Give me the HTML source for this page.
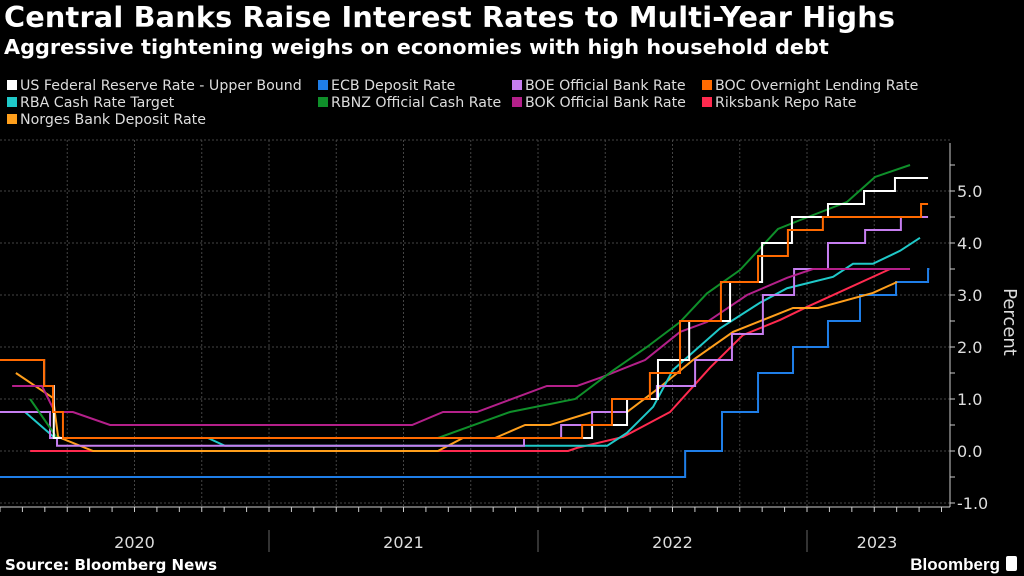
<!DOCTYPE html>
<html><head><meta charset="utf-8">
<style>
body{margin:0;background:#000;width:1024px;height:576px;overflow:hidden;font-family:"Liberation Sans","DejaVu Sans",sans-serif;color:#fff}
.t{position:absolute;left:4px;top:0px;font-size:28.7px;font-weight:bold;font-family:"DejaVu Sans","Liberation Sans",sans-serif;letter-spacing:0.2px}
.s{position:absolute;left:4px;top:35px;font-size:20.8px;font-weight:bold;font-family:"DejaVu Sans","Liberation Sans",sans-serif}
.lg{position:absolute;font-size:14.2px;color:#ddd;font-family:"DejaVu Sans","Liberation Sans",sans-serif;white-space:nowrap}
.lg i{display:inline-block;width:10px;height:10px;margin-right:3px;vertical-align:0px}
</style></head><body>
<div class="t">Central Banks Raise Interest Rates to Multi-Year Highs</div>
<div class="s">Aggressive tightening weighs on economies with high household debt</div>
<div>
<div class="lg" style="left:7px;top:78px"><i style="background:#fff"></i>US Federal Reserve Rate - Upper Bound</div>
<div class="lg" style="left:318px;top:78px"><i style="background:#1f7ee8"></i>ECB Deposit Rate</div>
<div class="lg" style="left:512px;top:78px"><i style="background:#c67ef0"></i>BOE Official Bank Rate</div>
<div class="lg" style="left:702px;top:78px"><i style="background:#ff6a00"></i>BOC Overnight Lending Rate</div>
<div class="lg" style="left:7px;top:95px"><i style="background:#1fc9c9"></i>RBA Cash Rate Target</div>
<div class="lg" style="left:318px;top:95px"><i style="background:#0f8f2a"></i>RBNZ Official Cash Rate</div>
<div class="lg" style="left:512px;top:95px"><i style="background:#b4208a"></i>BOK Official Bank Rate</div>
<div class="lg" style="left:702px;top:95px"><i style="background:#ff2a4f"></i>Riksbank Repo Rate</div>
<div class="lg" style="left:7px;top:112px"><i style="background:#ff9f1c"></i>Norges Bank Deposit Rate</div>
</div>
<svg id="c" width="1024" height="576" style="position:absolute;left:0;top:0"></svg>
<script>
const yTicks=[-1,0,1,2,3,4,5];
const yearLabels=["2020","2021","2022","2023"];
// step series: change dates (decimal years) and values
const fedDates=[2020,2020.164,2020.2,2022.201,2022.331,2022.446,2022.562,2022.714,2022.833,2022.944,2023.078,2023.212,2023.327];
const fedVals=[1.75,1.25,0.25,0.5,1.0,1.75,2.5,3.25,4.0,4.5,4.75,5.0,5.25];
const fedEnd=2023.45;
const ecbDates=[2020,2022.547,2022.684,2022.818,2022.948,2023.078,2023.197,2023.331,2023.45];
const ecbVals=[-0.5,0,0.75,1.5,2.0,2.5,3.0,3.25,3.5];
const ecbEnd=2023.455;
const boeDates=[2020,2020.186,2020.212,2021.948,2022.086,2022.201,2022.331,2022.442,2022.584,2022.721,2022.836,2022.952,2023.078,2023.216,2023.349];
const boeVals=[0.75,0.25,0.1,0.25,0.5,0.75,1.0,1.25,1.75,2.25,3.0,3.5,4.0,4.25,4.5];
const boeEnd=2023.45;
const bocDates=[2020,2020.164,2020.197,2020.234,2022.164,2022.275,2022.416,2022.528,2022.68,2022.818,2022.929,2023.059,2023.424];
const bocVals=[1.75,1.25,0.75,0.25,0.5,1.0,1.5,2.5,3.25,3.75,4.25,4.5,4.75];
const bocEnd=2023.45;
// line series
const rbaDates=[2020.093,2020.204,2020.773,2020.836,2022.257,2022.331,2022.428,2022.502,2022.677,2022.825,2022.926,2023.097,2023.171,2023.245,2023.346,2023.42];
const rbaVals=[0.75,0.25,0.25,0.1,0.1,0.35,0.85,1.56,2.36,2.85,3.13,3.35,3.6,3.6,3.85,4.1];
const rbnzDates=[2020.112,2020.212,2021.628,2021.896,2022.138,2022.279,2022.405,2022.528,2022.628,2022.751,2022.892,2022.974,2023.149,2023.253,2023.383];
const rbnzVals=[1.0,0.25,0.25,0.75,1.0,1.55,2.0,2.48,3.03,3.48,4.27,4.44,4.79,5.27,5.5];
const bokDates=[2020.045,2020.156,2020.204,2020.271,2020.409,2021.532,2021.647,2021.773,2022.033,2022.145,2022.242,2022.398,2022.528,2022.628,2022.777,2022.926,2023.022,2023.383];
const bokVals=[1.25,1.25,0.75,0.75,0.5,0.5,0.75,0.75,1.25,1.25,1.43,1.75,2.29,2.48,3.0,3.33,3.5,3.5];
const riksDates=[2020.112,2022.112,2022.145,2022.316,2022.491,2022.639,2022.762,2022.9,2023.0,2023.309];
const riksVals=[0,0,0.06,0.27,0.75,1.6,2.23,2.52,2.77,3.5];
const norgesDates=[2020.059,2020.197,2020.216,2020.346,2021.628,2021.721,2021.84,2021.952,2022.045,2022.201,2022.331,2022.454,2022.576,2022.725,2022.948,2023.041,2023.245,2023.335];
const norgesVals=[1.5,1.02,0.27,0,0,0.25,0.25,0.5,0.5,0.75,0.75,1.23,1.75,2.29,2.75,2.75,3.04,3.25];

const NS="http://www.w3.org/2000/svg";
const svg=document.getElementById('c');
const X=t=>(t-2020)*269;
const Y=v=>451-52*v;
function mk(tag,attrs,parent){const e=document.createElementNS(NS,tag);for(const k in attrs)e.setAttribute(k,attrs[k]);(parent||svg).appendChild(e);return e;}
let g=mk('line',{x1:0,x2:950,y1:140,y2:140,stroke:'#444','stroke-dasharray':'2,2'});


for(const v of yTicks){
  const l=mk('line',{x1:0,x2:950,y1:Y(v),y2:Y(v),stroke:'#444','stroke-dasharray':'2,2'});
  
  
}
for(let q=1;q<14;q++){
  const x=X(2020+q/4);
  const l=mk('line',{x1:x,x2:x,y1:140,y2:507,stroke:'#444','stroke-dasharray':'2,2'});
  
  
}
let ax=mk('line',{x1:0,x2:950,y1:507,y2:507,stroke:'#ccc','stroke-width':1});


for(let m=0;m<43;m++){
  const x=X(2020+m/12);
  const t=mk('line',{x1:x,x2:x,y1:507,y2:512,stroke:'#ccc'});
  
  
}
let ay=mk('line',{x1:950,x2:950,y1:143,y2:507,stroke:'#ccc'});


for(let v=-1;v<=5.5;v+=0.5){
  const t=mk('line',{x1:950,x2:955,y1:Y(v),y2:Y(v),stroke:'#ccc'});
  
  
}
for(const v of yTicks){
  const t=mk('text',{x:957,y:Y(v)+6,fill:'#ddd','font-size':16,'font-family':'"DejaVu Sans","Liberation Sans",sans-serif'});
  t.textContent=(v<0?'-':'')+Math.abs(v).toFixed(1);
  
  
}
let yt=mk('text',{x:0,y:0,fill:'#ddd','font-size':18,'font-family':'"DejaVu Sans","Liberation Sans",sans-serif','text-anchor':'middle',transform:'translate(1004,322) rotate(90)'});
yt.textContent='Percent';


yearLabels.forEach((s,i)=>{
  const t=mk('text',{x:i<3?X(2020+i+0.5):877,y:548,fill:'#ddd','font-size':16,'text-anchor':'middle','font-family':'"DejaVu Sans","Liberation Sans",sans-serif'});
  t.textContent=s;
  
  
  if(i>0){const x=X(2020+i);const l=mk('line',{x1:x,x2:x,y1:530,y2:552,stroke:'#666'});
  
  }
});
function stepPath(d,v,end){let p='M'+X(d[0])+','+Y(v[0]);for(let i=1;i<d.length;i++){p+=' H'+X(d[i])+' V'+Y(v[i]);}p+=' H'+X(end);return p;}
function linePath(d,v){return d.map((t,i)=>(i?'L':'M')+X(t)+','+Y(v[i])).join(' ');}
function draw(p,col,name){const e=mk('path',{d:p,fill:'none',stroke:col,'stroke-width':2,'stroke-linejoin':'miter'});
  
  }
draw(stepPath(ecbDates,ecbVals,ecbEnd),'#1f7ee8','series-ecb');
draw(linePath(riksDates,riksVals),'#ff2a4f','series-riksbank');
draw(linePath(norgesDates,norgesVals),'#ff9f1c','series-norges');
draw(linePath(rbaDates,rbaVals),'#1fc9c9','series-rba');
draw(stepPath(boeDates,boeVals,boeEnd),'#c67ef0','series-boe');
draw(linePath(bokDates,bokVals),'#b4208a','series-bok');
draw(linePath(rbnzDates,rbnzVals),'#0f8f2a','series-rbnz');
draw(stepPath(fedDates,fedVals,fedEnd),'#ffffff','series-fed');
draw(stepPath(bocDates,bocVals,bocEnd),'#ff6a00','series-boc');
let src=mk('text',{x:5,y:570,fill:'#fff','font-size':15,'font-weight':'bold','font-family':'"DejaVu Sans","Liberation Sans",sans-serif'});
src.textContent='Source: Bloomberg News';


let bb=mk('text',{x:1000,y:570,fill:'#fff','font-size':17,'font-weight':'bold','text-anchor':'end','font-family':'"Liberation Sans",sans-serif'});
bb.textContent='Bloomberg';


let ic=mk('rect',{x:1006,y:556,width:11,height:15,rx:2,fill:'#fff'});


</script>
</body></html>
